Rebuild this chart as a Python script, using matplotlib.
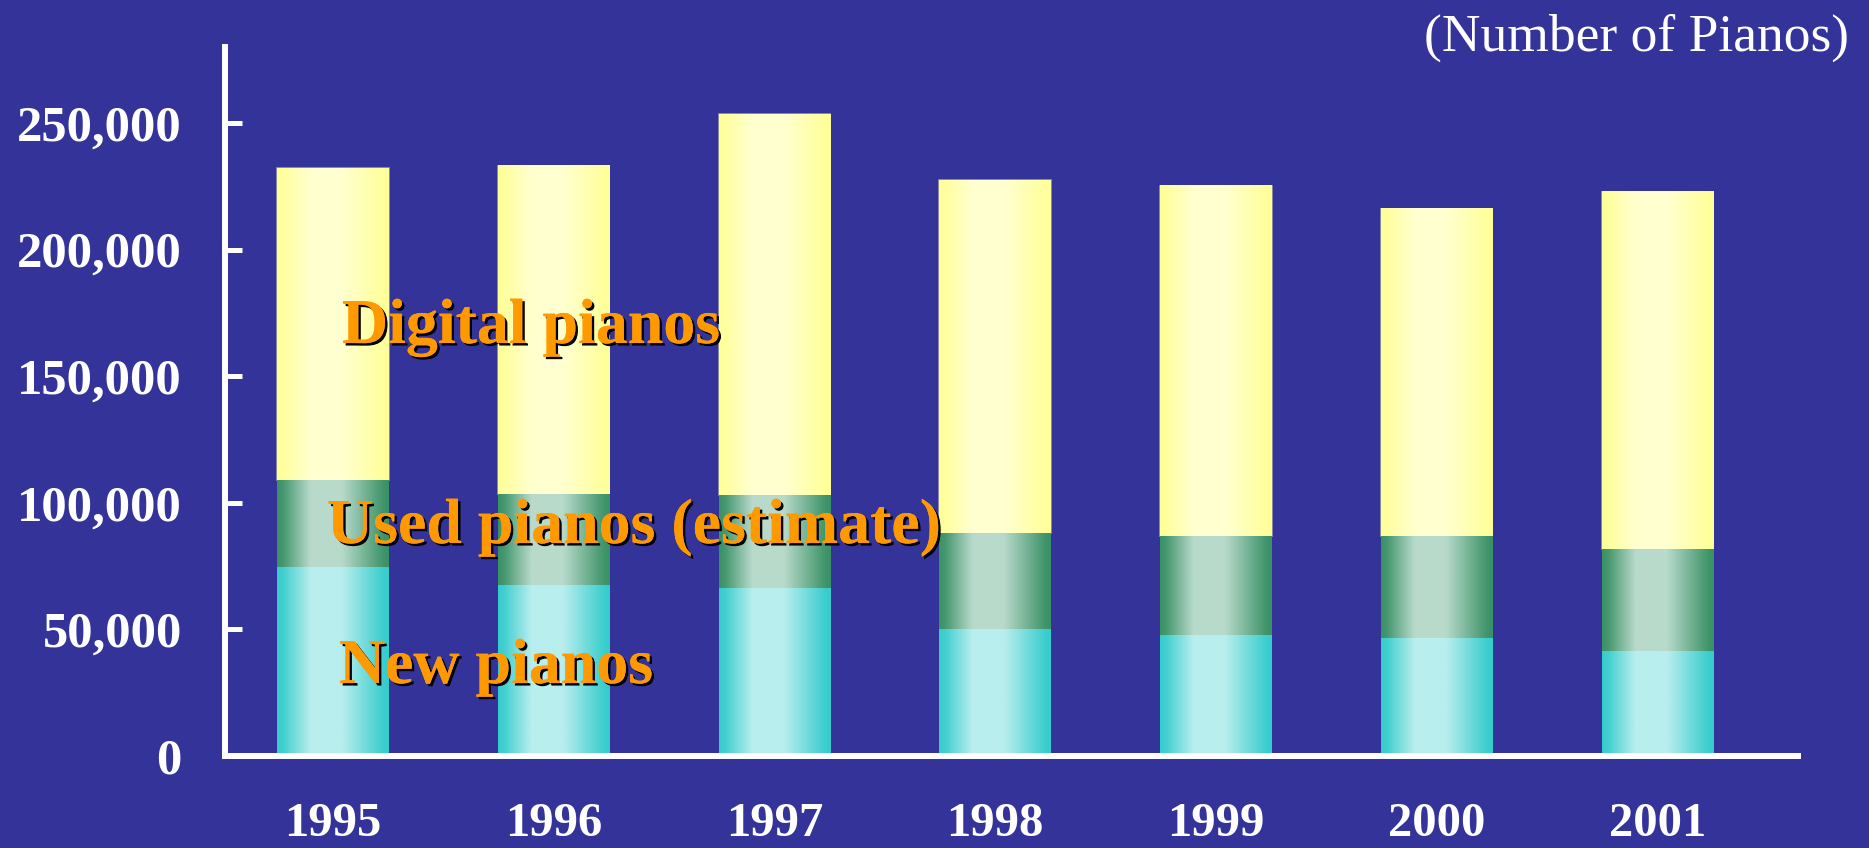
import numpy as np
import matplotlib
matplotlib.use("Agg")
import matplotlib.pyplot as plt
import matplotlib.patheffects as pe
from matplotlib.ticker import FuncFormatter


# Chart data (number of pianos).
YEARS = ["1995", "1996", "1997", "1998", "1999", "2000", "2001"]
NEW_PIANOS = [74800, 67500, 66300, 50000, 47700, 46700, 41500]
USED_PIANOS = [34200, 36000, 36900, 38100, 39000, 40000, 40200]
DIGITAL_PIANOS = [123200, 129600, 150400, 139400, 138400, 129500, 141100]
Y_TICKS = [0, 50000, 100000, 150000, 200000, 250000]

SERIES_LABELS = ["New pianos", "Used pianos (estimate)", "Digital pianos"]
UNIT_LABEL = "(Number of Pianos)"

BG = "#333399"
ORANGE = "#FF9900"
SERIF = "Liberation Serif"

# edge colour, centre colour of the horizontal shading for each segment
SHADES = {
    "new": ("#36CCCC", "#B9EEEE"),
    "used": ("#3A9166", "#B8DACB"),
    "digital": ("#FFFF99", "#FFFFD0"),
}


def shade_row(edge, centre, n=256):
    edge_rgb = np.array(matplotlib.colors.to_rgb(edge))
    centre_rgb = np.array(matplotlib.colors.to_rgb(centre))
    t = np.linspace(0, 1, n)
    w = np.interp(t, [0, 0.05, 0.3, 0.58, 0.95, 1], [0, 0.08, 1, 1, 0.05, 0])
    row = edge_rgb[None, :] * (1 - w[:, None]) + centre_rgb[None, :] * w[:, None]
    return row[None, :, :]


def shade_bars(ax, container, key):
    img = shade_row(*SHADES[key])
    for patch in container.patches:
        x0, y0 = patch.get_x(), patch.get_y()
        x1, y1 = x0 + patch.get_width(), y0 + patch.get_height()
        ax.imshow(img, extent=(x0, x1, y0, y1), aspect="auto",
                  interpolation="bilinear", zorder=1.2)


fig = plt.figure(figsize=(18.69, 8.48), dpi=100, facecolor=BG)
ax = fig.add_axes([0.1204, 0.1085, 0.8417, 0.836], facecolor=BG)

x = np.arange(len(YEARS))
new = np.array(NEW_PIANOS)
used = np.array(USED_PIANOS)
digital = np.array(DIGITAL_PIANOS)

bars_new = ax.bar(x, new, width=0.505, color=SHADES["new"][0], zorder=1)
bars_used = ax.bar(x, used, bottom=new, width=0.505, color=SHADES["used"][0], zorder=1)
bars_dig = ax.bar(x, digital, bottom=new + used, width=0.505,
                  color=SHADES["digital"][0], edgecolor="#9a9aa0", linewidth=1.2, zorder=1)

shade_bars(ax, bars_new, "new")
shade_bars(ax, bars_used, "used")
shade_bars(ax, bars_dig, "digital")

ax.set_xlim(-0.489, 6.638)
ax.set_ylim(0, 280000)

# axes styling: white spines, inward ticks on the y axis only
for side in ["top", "right"]:
    ax.spines[side].set_visible(False)
for side in ["left", "bottom"]:
    ax.spines[side].set_color("white")
    ax.spines[side].set_linewidth(4.3)
    ax.spines[side].set_zorder(3)

ax.set_yticks(Y_TICKS)
ax.yaxis.set_major_formatter(FuncFormatter(lambda v, _: f"{int(v):,}"))
ax.tick_params(axis="y", direction="in", length=12, width=3.6, color="white",
               pad=31, labelsize=36.5, labelcolor="white")
ax.set_xticks(x)
ax.set_xticklabels(YEARS)
ax.tick_params(axis="x", length=0, pad=33, labelsize=35, labelcolor="white")
for lbl in ax.get_xticklabels() + ax.get_yticklabels():
    lbl.set_fontfamily(SERIF)
    lbl.set_fontweight("bold")

# series labels with a dark drop shadow
shadow = [pe.withSimplePatchShadow(offset=(1.8, -1.8), shadow_rgbFace="black", alpha=1.0),
          pe.Normal()]
label_pos = [(0.027, 28800), (-0.027, 84100), (0.041, 163100)]
for text, (lx, ly) in zip(SERIES_LABELS, label_pos):
    ax.text(lx, ly, text, fontsize=46, fontweight="bold", family=SERIF,
            color=ORANGE, va="baseline", ha="left", zorder=5, path_effects=shadow)

fig.text(1849 / 1869, 1 - 51 / 848, UNIT_LABEL, fontsize=38.5, family=SERIF,
         color="white", ha="right", va="baseline")

fig.savefig("out.png", dpi=100, facecolor=BG)
